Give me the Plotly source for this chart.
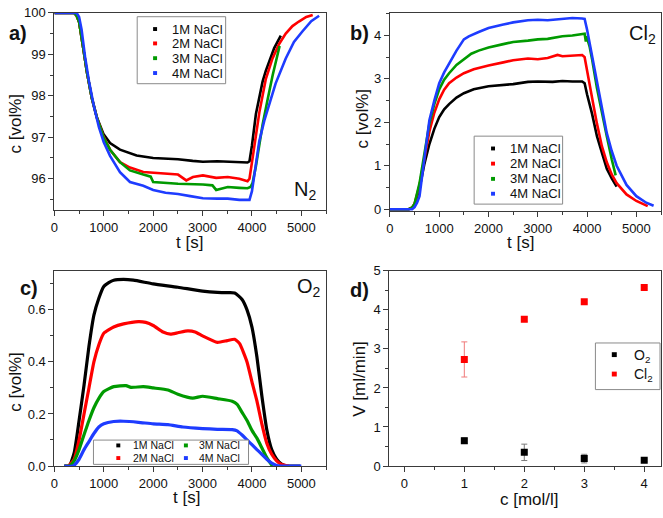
import plotly.graph_objects as go

# ---------------- data ----------------
series_names = ["1M NaCl", "2M NaCl", "3M NaCl", "4M NaCl"]
series_colors = ["#000000", "#ff0000", "#009a00", "#1e3cff"]

# Panel a: N2 concentration [vol%]
n2_t_1m = [0, 400, 450, 500, 590, 657, 757, 859, 993, 1127, 1328, 1500, 1664, 2000, 2300, 2503, 2800, 3007, 3300, 3510, 3700, 3910, 3950, 4000, 4080, 4150, 4215, 4280, 4350, 4450, 4584]
n2_v_1m = [100, 100, 99.93, 99.78, 99.1, 98.58, 97.95, 97.48, 97.08, 96.86, 96.7, 96.62, 96.56, 96.5, 96.49, 96.47, 96.43, 96.41, 96.42, 96.41, 96.4, 96.39, 96.42, 96.8, 97.56, 98.0, 98.34, 98.6, 98.85, 99.15, 99.45]
n2_t_2m = [0, 400, 450, 500, 590, 657, 757, 859, 993, 1127, 1328, 1530, 1800, 2000, 2300, 2503, 2670, 2805, 3007, 3275, 3510, 3745, 3910, 3950, 4013, 4080, 4150, 4215, 4280, 4416, 4550, 4684, 4820, 4950, 5100, 5230]
n2_v_2m = [100, 100, 99.93, 99.78, 99.1, 98.58, 97.95, 97.48, 97.02, 96.7, 96.4, 96.27, 96.16, 96.14, 96.12, 96.1, 95.96, 96.04, 96.08, 96.02, 96.04, 96.0, 95.94, 96.0, 96.5, 97.1, 97.6, 98.0, 98.4, 98.9, 99.25, 99.5, 99.68, 99.79, 99.9, 99.95]
n2_t_3m = [0, 400, 450, 500, 590, 657, 757, 859, 993, 1127, 1328, 1530, 1800, 1950, 2000, 2503, 3007, 3200, 3275, 3400, 3510, 3745, 3910, 3970, 4013, 4080, 4147, 4215, 4315, 4420, 4560]
n2_v_3m = [100, 100, 99.93, 99.78, 99.1, 98.58, 97.95, 97.48, 97.0, 96.7, 96.4, 96.2, 96.1, 96.05, 95.92, 95.88, 95.86, 95.84, 95.73, 95.76, 95.8, 95.78, 95.77, 95.8, 95.9, 96.3, 96.8, 97.3, 97.9, 98.5, 99.2]
n2_t_4m = [0, 450, 500, 550, 620, 700, 800, 900, 1000, 1127, 1328, 1530, 1800, 2000, 2250, 2503, 2750, 3007, 3300, 3510, 3745, 3910, 3950, 4000, 4080, 4147, 4250, 4348, 4480, 4684, 4850, 5020, 5200, 5360]
n2_v_4m = [100, 100, 99.9, 99.6, 98.95, 98.35, 97.75, 97.25, 96.88, 96.55, 96.16, 95.92, 95.83, 95.73, 95.66, 95.63, 95.58, 95.53, 95.52, 95.52, 95.49, 95.5, 95.49, 95.7, 96.3, 96.9, 97.4, 97.8, 98.3, 98.9, 99.3, 99.55, 99.8, 99.93]

# Panel b: Cl2 concentration [vol%]
cl_t_1m = [0, 380, 450, 500, 600, 700, 800, 900, 1000, 1100, 1200, 1350, 1500, 1700, 2000, 2300, 2500, 2800, 3000, 3300, 3500, 3700, 3900, 3950, 4000, 4100, 4200, 4300, 4400, 4500, 4600]
cl_v_1m = [0, 0, 0.03, 0.11, 0.48, 1.05, 1.5, 1.85, 2.12, 2.3, 2.42, 2.57, 2.67, 2.76, 2.83, 2.85, 2.88, 2.93, 2.94, 2.93, 2.95, 2.94, 2.94, 2.9, 2.64, 2.2, 1.68, 1.3, 0.93, 0.71, 0.52]
cl_t_2m = [0, 380, 450, 500, 600, 700, 800, 900, 1000, 1100, 1200, 1350, 1500, 1700, 2000, 2300, 2500, 2800, 3000, 3200, 3400, 3500, 3700, 3900, 3950, 4000, 4100, 4200, 4300, 4400, 4500, 4600, 4800, 5000, 5230]
cl_v_2m = [0, 0, 0.04, 0.13, 0.55, 1.2, 1.79, 2.22, 2.53, 2.75, 2.9, 3.03, 3.13, 3.22, 3.31, 3.38, 3.43, 3.47, 3.45, 3.48, 3.55, 3.52, 3.53, 3.55, 3.5, 3.17, 2.57, 1.97, 1.45, 1.08, 0.8, 0.6, 0.34, 0.19, 0.07]
cl_t_3m = [0, 380, 450, 500, 600, 700, 800, 900, 1000, 1100, 1200, 1350, 1500, 1650, 1800, 2000, 2300, 2500, 2800, 3000, 3200, 3500, 3700, 3950, 3975, 3990, 4050, 4100, 4200, 4300, 4400, 4500, 4580]
cl_v_3m = [0, 0, 0.04, 0.13, 0.6, 1.3, 1.97, 2.42, 2.76, 2.98, 3.13, 3.32, 3.46, 3.58, 3.65, 3.72, 3.8, 3.85, 3.88, 3.91, 3.92, 3.98, 4.0, 4.04, 3.86, 3.98, 3.75, 3.46, 2.79, 2.2, 1.68, 1.15, 0.78]
cl_t_4m = [0, 450, 500, 550, 600, 700, 800, 900, 1000, 1100, 1200, 1350, 1500, 1600, 1800, 2000, 2300, 2500, 2800, 3000, 3200, 3500, 3700, 3900, 3950, 4000, 4100, 4200, 4300, 4400, 4500, 4600, 4800, 5000, 5200, 5350]
cl_v_4m = [0, 0, 0.05, 0.15, 0.3, 1.15, 2.05, 2.5, 2.9, 3.15, 3.35, 3.65, 3.91, 3.98, 4.08, 4.17, 4.25, 4.3, 4.35, 4.36, 4.35, 4.39, 4.4, 4.39, 4.38, 4.13, 3.54, 2.87, 2.27, 1.75, 1.34, 1.0, 0.56, 0.3, 0.15, 0.08]

# Panel c: O2 concentration [vol%]
o_t_1m = [200, 300, 400, 500, 600, 700, 800, 900, 1000, 1100, 1200, 1400, 1600, 2000, 2500, 3000, 3300, 3500, 3650, 3800, 3900, 4000, 4100, 4200, 4300, 4400, 4500, 4600, 4700, 4980]
o_v_1m = [0, 0, 0.05, 0.175, 0.31, 0.46, 0.58, 0.645, 0.69, 0.705, 0.714, 0.717, 0.714, 0.70, 0.687, 0.672, 0.667, 0.666, 0.665, 0.64, 0.6, 0.534, 0.42, 0.27, 0.14, 0.063, 0.026, 0.007, 0, 0]
o_t_2m = [200, 280, 400, 500, 600, 700, 800, 900, 1000, 1200, 1400, 1700, 1850, 2000, 2200, 2350, 2500, 2700, 2850, 3000, 3300, 3500, 3650, 3750, 3900, 4000, 4100, 4200, 4300, 4400, 4500, 4600, 4750]
o_v_2m = [0, 0, 0.026, 0.10, 0.2, 0.3, 0.4, 0.466, 0.51, 0.534, 0.546, 0.555, 0.552, 0.54, 0.515, 0.507, 0.512, 0.519, 0.515, 0.5, 0.475, 0.482, 0.487, 0.47, 0.4, 0.323, 0.25, 0.162, 0.088, 0.045, 0.02, 0.006, 0]
o_t_3m = [200, 300, 400, 500, 600, 700, 800, 900, 1000, 1200, 1450, 1550, 1800, 2000, 2300, 2500, 2800, 3000, 3300, 3600, 3700, 3800, 3900, 4000, 4100, 4200, 4300, 4400, 4420]
o_v_3m = [0, 0, 0.02, 0.063, 0.12, 0.175, 0.224, 0.26, 0.286, 0.305, 0.309, 0.302, 0.305, 0.30, 0.292, 0.276, 0.261, 0.268, 0.259, 0.249, 0.237, 0.206, 0.175, 0.137, 0.107, 0.07, 0.032, 0.004, 0]
o_t_4m = [200, 380, 500, 600, 700, 800, 900, 1000, 1200, 1400, 1700, 2000, 2300, 2600, 3000, 3300, 3600, 3700, 3800, 3900, 4000, 4100, 4200, 4300, 4400, 4500, 4600, 5000]
o_v_4m = [0, 0, 0.026, 0.063, 0.094, 0.125, 0.15, 0.162, 0.171, 0.172, 0.168, 0.162, 0.159, 0.15, 0.144, 0.141, 0.14, 0.135, 0.119, 0.1, 0.082, 0.063, 0.045, 0.026, 0.011, 0.002, 0, 0]

# Panel d: volume flow vs NaCl concentration
d_conc = [1, 2, 3, 4]
d_o2 = [0.65, 0.35, 0.19, 0.15]
d_o2_err = [0.07, 0.21, 0.11, 0.03]
d_cl2 = [2.73, 3.76, 4.21, 4.57]
d_cl2_err = [0.45, 0.06, 0.04, 0.03]
d_names = ["O<sub>2</sub>", "Cl<sub>2</sub>"]
d_colors = ["#000000", "#ff0000"]
d_err_colors = ["#7a7a7a", "#f07a7a"]

# ---------------- layout helpers ----------------
W, H = 663, 518
FONT = "Liberation Sans, Arial, sans-serif"


def fx(p):
    return p / W


def fy(p):
    return 1 - p / H


fig = go.Figure()

panel_a = [(n2_t_1m, n2_v_1m), (n2_t_2m, n2_v_2m), (n2_t_3m, n2_v_3m), (n2_t_4m, n2_v_4m)]
panel_b = [(cl_t_1m, cl_v_1m), (cl_t_2m, cl_v_2m), (cl_t_3m, cl_v_3m), (cl_t_4m, cl_v_4m)]
panel_c = [(o_t_1m, o_v_1m), (o_t_2m, o_v_2m), (o_t_3m, o_v_3m), (o_t_4m, o_v_4m)]

for (t, v), name, col in zip(panel_a, series_names, series_colors):
    fig.add_trace(go.Scatter(x=t, y=v, mode="lines", name=name, line=dict(color=col, width=2.6),
                             xaxis="x", yaxis="y", showlegend=False))
for (t, v), name, col in zip(panel_b, series_names, series_colors):
    fig.add_trace(go.Scatter(x=t, y=v, mode="lines", name=name, line=dict(color=col, width=2.6),
                             xaxis="x2", yaxis="y2", showlegend=False))
for (t, v), name, col in zip(panel_c, series_names, series_colors):
    fig.add_trace(go.Scatter(x=t, y=v, mode="lines", name=name,
                             line=dict(color=col, width=3.2, shape="spline", smoothing=0.5),
                             xaxis="x3", yaxis="y3", showlegend=False))

for vals, errs, name, col, ecol in zip([d_o2, d_cl2], [d_o2_err, d_cl2_err], d_names, d_colors, d_err_colors):
    fig.add_trace(go.Scatter(x=d_conc, y=vals, mode="markers", name=name,
                             marker=dict(symbol="square", size=7, color=col),
                             error_y=dict(type="data", array=errs, visible=True, color=ecol, thickness=1, width=3),
                             xaxis="x4", yaxis="y4", showlegend=False))

axis_common = dict(showline=True, mirror=True, linecolor="#3a3a3a", linewidth=1,
                   ticks="outside", ticklen=5, tickcolor="#3a3a3a", tickwidth=1,
                   showgrid=False, zeroline=False,
                   tickfont=dict(family=FONT, size=13, color="#111"))

domains = {
    "a": ([50.7, 324], [6, 209.3]),
    "b": ([388.3, 661], [6, 210.5]),
    "c": ([50.7, 324], [271.7, 472.7]),
    "d": ([387.7, 661], [271.7, 472.7]),
}


def xdom(k):
    return [fx(domains[k][0][0]), fx(domains[k][0][1])]


def ydom(k):
    return [fy(domains[k][1][1]), fy(domains[k][1][0])]


fig.update_layout(
    width=W, height=H, margin=dict(l=0, r=0, t=0, b=0),
    paper_bgcolor="white", plot_bgcolor="white", showlegend=False,
    font=dict(family=FONT, color="#111"),
    xaxis=dict(axis_common, domain=xdom("a"), range=[0, 5500], dtick=1000, tick0=0,
               minor=dict(ticks="outside", ticklen=3, dtick=500, tickcolor="#3a3a3a"), anchor="y"),
    yaxis=dict(axis_common, domain=ydom("a"), range=[95.24, 100], dtick=1, tick0=0,
               minor=dict(ticks="outside", ticklen=3, dtick=0.5, tickcolor="#3a3a3a"), anchor="x"),
    xaxis2=dict(axis_common, domain=xdom("b"), range=[0, 5500], dtick=1000, tick0=0,
                minor=dict(ticks="outside", ticklen=3, dtick=500, tickcolor="#3a3a3a"), anchor="y2"),
    yaxis2=dict(axis_common, domain=ydom("b"), range=[-0.05, 4.52], dtick=1, tick0=0,
                minor=dict(ticks="outside", ticklen=3, dtick=0.5, tickcolor="#3a3a3a"), anchor="x2"),
    xaxis3=dict(axis_common, domain=xdom("c"), range=[0, 5500], dtick=1000, tick0=0,
                minor=dict(ticks="outside", ticklen=3, dtick=500, tickcolor="#3a3a3a"), anchor="y3"),
    yaxis3=dict(axis_common, domain=ydom("c"), range=[0, 0.75], dtick=0.2, tick0=0, tickformat=".1f",
                minor=dict(ticks="outside", ticklen=3, dtick=0.1, tickcolor="#3a3a3a"), anchor="x3"),
    xaxis4=dict(axis_common, domain=xdom("d"), range=[-0.25, 4.28], dtick=1, tick0=0,
                minor=dict(ticks="outside", ticklen=3, dtick=0.5, tickcolor="#3a3a3a"), anchor="y4"),
    yaxis4=dict(axis_common, domain=ydom("d"), range=[0, 5], dtick=1, tick0=0,
                minor=dict(ticks="outside", ticklen=3, dtick=0.5, tickcolor="#3a3a3a"), anchor="x4"),
)

annotations = []
shapes = []


def text(x, y, s, size, angle=0, xanchor="center", yanchor="middle", color="#111"):
    annotations.append(dict(x=fx(x), y=fy(y), xref="paper", yref="paper", text=s, showarrow=False,
                            textangle=angle, xanchor=xanchor, yanchor=yanchor,
                            font=dict(family=FONT, size=size, color=color)))


# panel letters
for lab, (x, y) in zip(["a)", "b)", "c)", "d)"], [(14, 27), (358, 27), (25, 289), (358, 291)]):
    text(x, y, "<b>%s</b>" % lab, 20)

# gas labels
text(303, 189, "N<sub>2</sub>", 20)
text(642, 28, "Cl<sub>2</sub>", 20)
text(307, 289, "O<sub>2</sub>", 20)

# axis titles
text(12, 120, "c [vol%]", 17, angle=-90)
text(361, 115, "c [vol%]", 17, angle=-90)
text(12, 386, "c [vol%]", 17, angle=-90)
text(358, 383, "V [ml/min]", 17, angle=-90)
text(187, 243, "t [s]", 17)
text(520, 243, "t [s]", 17)
text(184, 505, "t [s]", 17)
text(529, 507, "c [mol/l]", 17)


def legend(box, names, colors, marker_xy, text_xy, size, msize):
    x0, y0, x1, y1 = box
    shapes.append(dict(type="rect", xref="paper", yref="paper", x0=fx(x0), x1=fx(x1), y0=fy(y1), y1=fy(y0),
                       line=dict(color="#8a8a8a", width=1), fillcolor="white", layer="above"))
    for name, col, (mx, my), (tx, ty) in zip(names, colors, marker_xy, text_xy):
        h = msize / 2
        shapes.append(dict(type="rect", xref="paper", yref="paper", x0=fx(mx - h), x1=fx(mx + h),
                           y0=fy(my + h), y1=fy(my - h), line=dict(width=0), fillcolor=col, layer="above"))
        text(tx, ty, name, size, xanchor="left")


rows_a = [22.7, 37.5, 52.7, 68.0]
legend((134, 10, 223, 79), series_names, series_colors,
       [(152, r) for r in rows_a], [(167, r) for r in rows_a], 13, 4)
rows_b = [145.7, 161.3, 177.0, 192.3]
legend((473, 133, 562, 203), series_names, series_colors,
       [(492, r) for r in rows_b], [(507, r) for r in rows_b], 13, 4)
legend((90, 446, 246, 471), series_names, series_colors,
       [(115, 451.5), (115, 464.5), (183, 451.5), (183, 464.5)],
       [(128, 451.5), (128, 464.5), (194, 451.5), (194, 464.5)], 10.5, 4)
legend((595, 346, 660, 394), d_names, d_colors,
       [(614, 358), (614, 378)], [(632, 359), (632, 379)], 14, 5)

fig.update_layout(annotations=annotations, shapes=shapes)
fig.write_html("out.html", config={"displayModeBar": False},
               post_script="document.body.style.margin='0px';document.body.style.padding='0px';document.body.style.overflow='hidden';")
